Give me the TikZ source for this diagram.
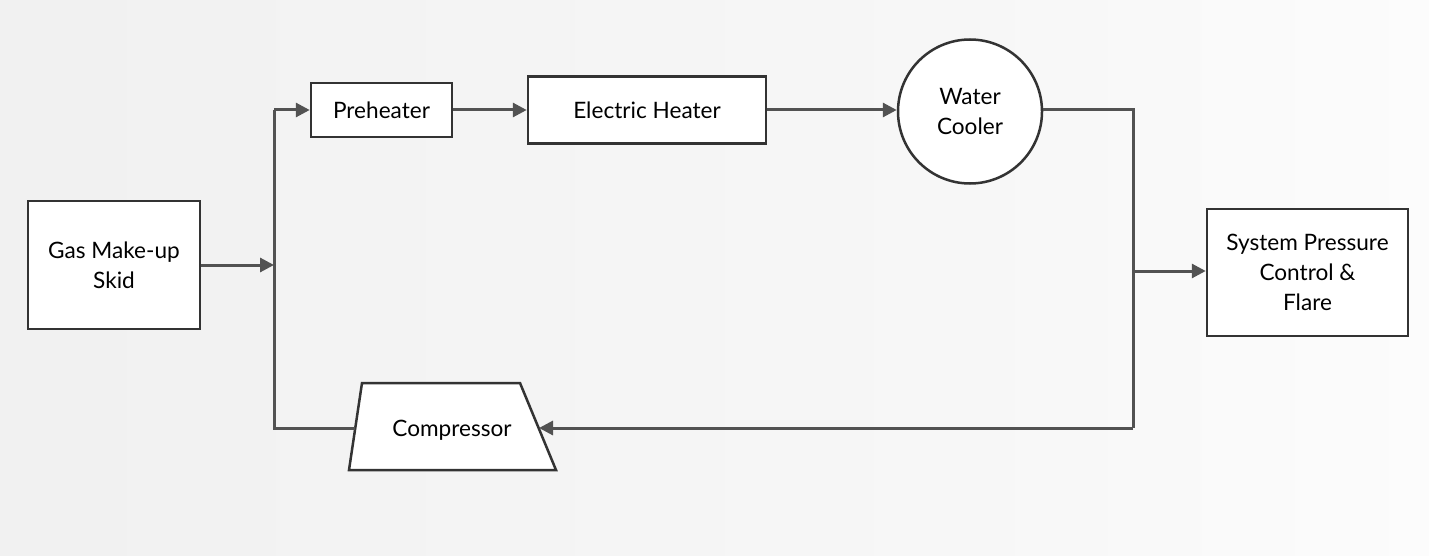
\documentclass[tikz,border=0pt]{standalone}
\usepackage{fontspec}
\setmainfont{Lato}
\usetikzlibrary{arrows.meta}
\pgfdeclarehorizontalshading{bg}{100bp}{color(0bp)=(gray!15); color(60bp)=(gray!6); color(85bp)=(white); color(100bp)=(gray!15)}
\begin{document}
\begin{tikzpicture}[x=0.5pt,y=-0.5pt,
  box/.style={draw=black!80,line width=1.25pt,fill=white,inner sep=0pt,align=center,font=\fontsize{11.3}{14.8}\selectfont},
  pipe/.style={draw=black!68,line width=1.5pt},
  arr/.style={pipe,-{Triangle[length=7pt,width=7pt]}}]
\useasboundingbox (0,0) rectangle (1429,556);
\shade[shading=bg] (0,0) rectangle (1429,556);
\node[box,minimum width=86pt,minimum height=64pt] (gas) at (114,265) {Gas Make-up\\Skid};
\node[box,minimum width=70.5pt,minimum height=27pt] (pre) at (381.5,110) {Preheater};
\node[box,minimum width=119pt,minimum height=33.5pt] (eh) at (647,110) {Electric Heater};
\node[box,circle,minimum size=72pt] (wc) at (970,111.5) {Water\\Cooler};
\node[box,minimum width=100.5pt,minimum height=63.5pt] (sp) at (1307.5,272.5) {System Pressure\\Control \&\\Flare};
\draw[black!80,line width=1.25pt,fill=white] (362,383) -- (520,383) -- (556,470) -- (349,470) -- cycle;
\node[font=\fontsize{11.3}{14}\selectfont] (comp) at (452,430) {Compressor};
\coordinate (cl) at (355,428);
\coordinate (cr) at (539,428);
\coordinate (j) at (274,265);
\coordinate (jt) at (274,110);
\coordinate (jb) at (274,428);
\coordinate (rt) at (1133,110);
\coordinate (rm) at (1133,271);
\coordinate (rb) at (1133,428);
\draw[arr] (gas.east) -- (j);
\draw[pipe] (cl) -- (jb) -- (jt);
\draw[arr] (jt) -- (pre.west);
\draw[arr] (pre.east) -- (eh.west);
\draw[arr] (eh.east) -- (eh.east -| wc.west);
\draw[pipe] (rt -| wc.east) -- (rt) -- (rb);
\draw[arr] (rb) -- (cr);
\draw[arr] (rm) -- (rm -| sp.west);
\end{tikzpicture}
\end{document}
